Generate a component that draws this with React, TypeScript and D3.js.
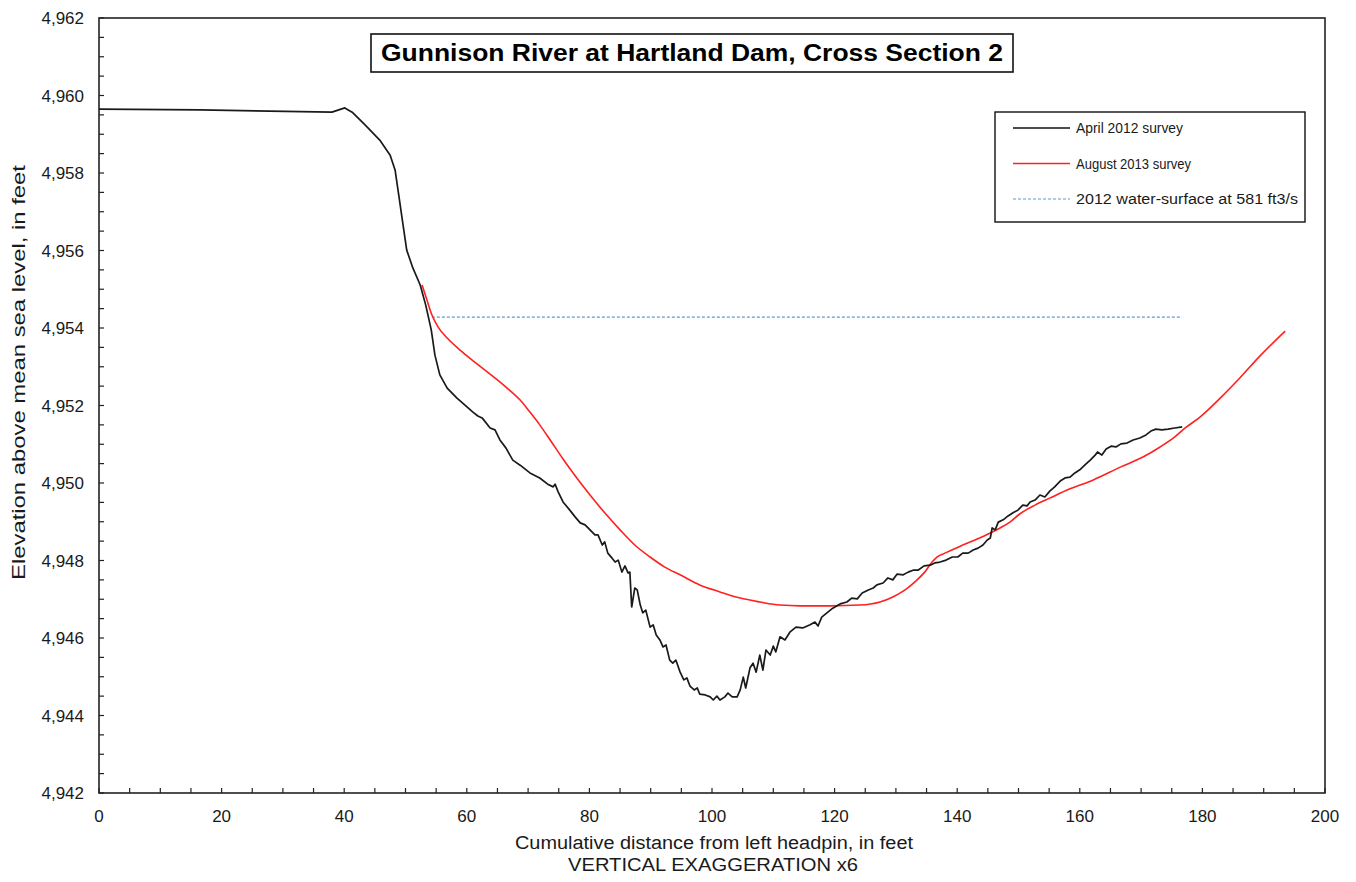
import React from "react";
import * as d3 from "d3";

const aprilX = [0, 16.5, 38.0, 40.1, 41.3, 43.4, 45.8, 47.5, 48.3, 48.9, 49.6, 50.2, 51.2, 52.4, 53.3, 54.2, 54.8, 55.6, 56.8, 58.4, 59.7, 61.0, 61.8, 62.5, 63.8, 64.6, 65.4, 66.4, 67.5, 68.7, 70.3, 71.9, 73.2, 74.1, 74.4, 74.9, 75.7, 76.8, 77.7, 78.5, 79.3, 80.1, 80.9, 81.4, 82.1, 82.5, 83.0, 83.7, 84.2, 84.7, 85.3, 85.8, 86.3, 86.6, 86.9, 87.4, 87.8, 88.3, 88.7, 89.2, 89.9, 90.4, 90.9, 91.5, 92.0, 92.5, 93.1, 93.6, 94.1, 94.8, 95.4, 95.9, 96.4, 97.1, 97.6, 98.0, 98.9, 99.7, 100.2, 100.8, 101.3, 102.1, 102.6, 103.3, 104.1, 104.6, 105.1, 105.5, 106.2, 106.7, 107.2, 107.8, 108.3, 108.8, 109.5, 110.0, 110.4, 111.1, 111.9, 112.7, 113.7, 114.8, 116.0, 116.8, 117.3, 117.9, 118.9, 119.7, 120.9, 122.0, 122.8, 123.7, 124.5, 125.5, 126.3, 126.9, 127.9, 128.7, 129.5, 130.2, 131.2, 132.0, 132.8, 133.6, 134.6, 135.6, 136.4, 137.2, 138.2, 139.2, 140.1, 140.9, 141.8, 142.6, 143.4, 144.2, 144.9, 145.4, 145.7, 146.2, 146.7, 147.5, 148.3, 149.1, 149.9, 150.7, 151.4, 151.9, 152.7, 153.5, 154.3, 155.1, 155.9, 156.8, 157.6, 158.4, 159.2, 160.0, 160.8, 161.7, 162.5, 162.9, 163.6, 164.3, 165.1, 165.9, 166.7, 167.7, 168.7, 169.8, 170.8, 171.6, 172.4, 173.4, 174.4, 175.5, 176.7];
const aprilElev = [4959.65, 4959.63, 4959.57, 4959.68, 4959.57, 4959.24, 4958.85, 4958.46, 4958.08, 4957.43, 4956.66, 4956.01, 4955.55, 4955.11, 4954.59, 4953.95, 4953.30, 4952.79, 4952.45, 4952.19, 4952.01, 4951.83, 4951.73, 4951.68, 4951.42, 4951.37, 4951.11, 4950.90, 4950.59, 4950.46, 4950.26, 4950.13, 4949.97, 4949.90, 4949.97, 4949.77, 4949.51, 4949.30, 4949.12, 4948.97, 4948.92, 4948.79, 4948.66, 4948.66, 4948.40, 4948.48, 4948.19, 4948.06, 4947.96, 4948.01, 4947.70, 4947.86, 4947.68, 4947.70, 4946.80, 4947.29, 4947.24, 4946.85, 4946.65, 4946.72, 4946.28, 4946.34, 4946.08, 4945.95, 4945.77, 4945.82, 4945.43, 4945.35, 4945.43, 4945.12, 4944.92, 4944.97, 4944.76, 4944.66, 4944.71, 4944.55, 4944.53, 4944.48, 4944.40, 4944.50, 4944.40, 4944.48, 4944.58, 4944.48, 4944.48, 4944.66, 4944.99, 4944.71, 4945.23, 4945.35, 4945.12, 4945.56, 4945.17, 4945.69, 4945.56, 4945.79, 4945.64, 4946.03, 4945.95, 4946.15, 4946.28, 4946.26, 4946.34, 4946.41, 4946.31, 4946.54, 4946.67, 4946.77, 4946.88, 4946.93, 4947.03, 4947.01, 4947.16, 4947.24, 4947.29, 4947.37, 4947.42, 4947.55, 4947.50, 4947.65, 4947.63, 4947.70, 4947.75, 4947.75, 4947.86, 4947.88, 4947.94, 4947.96, 4948.01, 4948.09, 4948.09, 4948.19, 4948.19, 4948.27, 4948.32, 4948.40, 4948.53, 4948.58, 4948.84, 4948.79, 4948.99, 4949.05, 4949.15, 4949.23, 4949.30, 4949.43, 4949.41, 4949.51, 4949.56, 4949.69, 4949.64, 4949.79, 4949.90, 4950.05, 4950.13, 4950.15, 4950.26, 4950.34, 4950.46, 4950.59, 4950.72, 4950.80, 4950.72, 4950.88, 4950.95, 4950.93, 4951.01, 4951.03, 4951.11, 4951.16, 4951.24, 4951.34, 4951.39, 4951.37, 4951.39, 4951.42, 4951.45];

const augustX = [52.7, 53.5, 54.3, 55.3, 56.8, 58.9, 61.3, 63.8, 66.2, 68.7, 70.3, 71.9, 73.6, 75.7, 77.7, 80.1, 82.5, 85.0, 87.4, 89.9, 92.3, 94.8, 98.0, 101.3, 104.6, 107.8, 111.1, 114.4, 119.2, 124.1, 127.4, 129.5, 131.5, 133.1, 134.7, 135.9, 136.7, 138.0, 140.5, 142.9, 145.4, 147.0, 148.6, 150.2, 152.7, 155.1, 158.4, 162.2, 166.6, 170.3, 173.1, 175.5, 177.2, 179.6, 182.9, 186.1, 189.4, 193.5];
const augustElev = [4955.11, 4954.72, 4954.34, 4954.03, 4953.74, 4953.43, 4953.12, 4952.81, 4952.50, 4952.14, 4951.83, 4951.50, 4951.11, 4950.62, 4950.18, 4949.69, 4949.23, 4948.79, 4948.40, 4948.09, 4947.83, 4947.63, 4947.37, 4947.19, 4947.03, 4946.93, 4946.85, 4946.83, 4946.83, 4946.85, 4946.93, 4947.06, 4947.24, 4947.45, 4947.70, 4947.96, 4948.09, 4948.19, 4948.37, 4948.53, 4948.71, 4948.84, 4948.99, 4949.20, 4949.43, 4949.61, 4949.85, 4950.08, 4950.41, 4950.67, 4950.93, 4951.19, 4951.42, 4951.70, 4952.19, 4952.71, 4953.28, 4953.92];

const waterX = [54.3, 176.7];
const waterElev = [4954.28, 4954.28];

const xTicks = [0, 20, 40, 60, 80, 100, 120, 140, 160, 180, 200];
const yTicks = [4942, 4944, 4946, 4948, 4950, 4952, 4954, 4956, 4958, 4960, 4962];

const legendLabels = ["April 2012 survey", "August 2013 survey", "2012 water-surface at 581  ft3/s"];
const legendLengths = [107, 115, 222];
const titleText = "Gunnison River at Hartland Dam, Cross Section 2";
const xTitle = "Cumulative distance from left headpin, in feet";
const xSubtitle = "VERTICAL  EXAGGERATION   x6";
const yTitle = "Elevation above mean sea level, in feet";

const W = 1356, H = 882;
const L = 99, R = 1325, T = 18, B = 793;
const FONT = "Arial, 'Liberation Sans', sans-serif";

export default function App() {
  const x = d3.scaleLinear().domain([0, 200]).range([L, R]);
  const y = d3.scaleLinear().domain([4942, 4962]).range([B, T]);
  const toPts = (xs: number[], ys: number[]) => xs.map((v, i) => [v, ys[i]] as [number, number]);
  const lineLin = d3.line<[number, number]>().x(d => x(d[0])).y(d => y(d[1]));
  const lineSmooth = d3.line<[number, number]>().x(d => x(d[0])).y(d => y(d[1])).curve(d3.curveMonotoneX);

  const xMinor = d3.range(0, 201, 5);
  const yMinor = d3.range(4942, 4962.01, 0.5);

  const legendColors = ["#111", "#ff2020", "#5b9bd5"];

  return (
    <svg width={W} height={H} style={{ position: "absolute", left: 0, top: 0, background: "#fff" }} fontFamily={FONT}>
      <rect x={0} y={0} width={W} height={H} fill="#fff" />
      {/* ticks */}
      {xMinor.map(v => (
        <line key={"xt" + v} x1={x(v)} x2={x(v)} y1={B} y2={B - 5} stroke="#222" strokeWidth={1.2} />
      ))}
      {yMinor.map(v => (
        <line key={"yt" + v} x1={L} x2={L + 5} y1={y(v)} y2={y(v)} stroke="#222" strokeWidth={1.2} />
      ))}
      {/* frame */}
      <rect x={L} y={T} width={R - L} height={B - T} fill="none" stroke="#222" strokeWidth={1.6} />
      {/* tick labels */}
      {xTicks.map(v => (
        <text key={"xl" + v} x={x(v)} y={822} textAnchor="middle" fontSize={17} fill="#1a1a1a">{v}</text>
      ))}
      {yTicks.map(v => (
        <text key={"yl" + v} x={84} y={y(v) + 6} textAnchor="end" fontSize={17} fill="#1a1a1a">{d3.format(",")(v)}</text>
      ))}
      {/* axis titles */}
      <text x={515} y={849} fontSize={18} fill="#1a1a1a" textLength={398} lengthAdjust="spacingAndGlyphs">{xTitle}</text>
      <text x={568} y={871} fontSize={18} fill="#1a1a1a" textLength={290} lengthAdjust="spacingAndGlyphs">{xSubtitle}</text>
      <text transform={`translate(25,580) rotate(-90)`} fontSize={18} fill="#1a1a1a" textLength={415} lengthAdjust="spacingAndGlyphs">{yTitle}</text>

      {/* data */}
      <path d={lineLin(toPts(waterX, waterElev)) || ""} fill="none" stroke="#5b9bd5" strokeWidth={1.3} strokeDasharray="3,2" />
      <path d={lineSmooth(toPts(augustX, augustElev)) || ""} fill="none" stroke="#ff2020" strokeWidth={1.6} />
      <path d={lineLin(toPts(aprilX, aprilElev)) || ""} fill="none" stroke="#1a1a1a" strokeWidth={1.7} strokeLinejoin="round" />

      {/* title */}
      <rect x={371} y={34} width={642} height={38} fill="#fff" stroke="#111" strokeWidth={1.6} />
      <text x={381} y={61} fontSize={23} fontWeight="bold" fill="#000" textLength={622} lengthAdjust="spacingAndGlyphs">{titleText}</text>

      {/* legend */}
      <rect x={995} y={112} width={310} height={110} fill="#fff" stroke="#111" strokeWidth={1.4} />
      {legendLabels.map((lab, i) => {
        const ly = 128 + i * 35.5;
        return (
          <g key={lab}>
            <line x1={1013} x2={1070} y1={ly} y2={ly} stroke={legendColors[i]} strokeWidth={i === 2 ? 1.2 : 1.5} strokeDasharray={i === 2 ? "3,2" : undefined} />
            <text x={1076} y={ly + 5} fontSize={14} fill="#1a1a1a" textLength={legendLengths[i]} lengthAdjust="spacingAndGlyphs">{lab}</text>
          </g>
        );
      })}
    </svg>
  );
}
